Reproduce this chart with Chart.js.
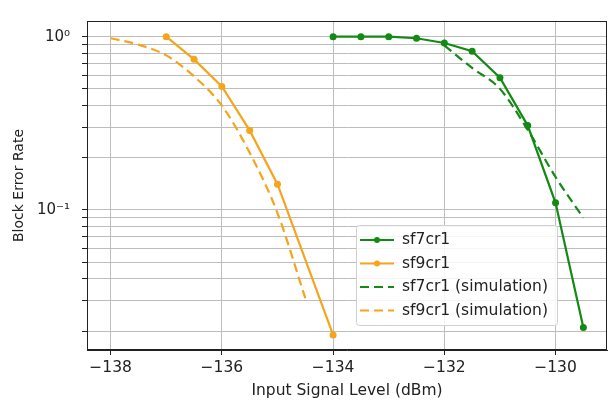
<!DOCTYPE html>
<html>
<head>
<meta charset="utf-8">
<script src="https://cdn.jsdelivr.net/npm/chart.js@4/dist/chart.umd.min.js"></script>
<style>
  html, body { margin: 0; padding: 0; background: #fff; }
  #wrap { position: relative; width: 611px; height: 402px; }
</style>
</head>
<body>
<div id="wrap"><canvas id="blerChart" width="611" height="402"></canvas></div>
<script>
// Data
const sf7Levels = [-134, -133.5, -133, -132.5, -132, -131.5, -131, -130.5, -130, -129.5];
const sf7Bler = [1.0, 1.0, 1.0, 0.98, 0.92, 0.825, 0.58, 0.307, 0.11, 0.021];
const sf9Levels = [-137, -136.5, -136, -135.5, -135, -134];
const sf9Bler = [1.0, 0.74, 0.516, 0.288, 0.141, 0.019];
const sf7SimLevels = [-132, -131.5, -131, -130.5, -130, -129.5];
const sf7SimBler = [0.89, 0.66, 0.5, 0.29, 0.155, 0.09];
const sf9SimLevels = [-138, -137.5, -137, -136.5, -136, -135.5, -135, -134.5];
const sf9SimBler = [0.98, 0.9, 0.78, 0.59, 0.4, 0.214, 0.096, 0.031];

const seriesLabels = ['sf7cr1', 'sf9cr1', 'sf7cr1 (simulation)', 'sf9cr1 (simulation)'];
const yTickValues = [0.02, 0.03, 0.04, 0.05, 0.06, 0.07, 0.08, 0.09, 0.1,
                     0.2, 0.3, 0.4, 0.5, 0.6, 0.7, 0.8, 0.9, 1];
const yTickLabels = { 1: '10\u2070', 0.1: '10\u207B\u00B9' };

const GREEN = '#138a13';
const ORANGE = '#f6a41c';
const FONT = 'DejaVu Sans';

function toPoints(xs, ys) {
    return xs.map((x, i) => ({ x: x, y: ys[i] }));
}

// kotak bingkai atas + kanan, lalu legenda di dalam area plot
const framePlugin = {
    id: 'frame',
    afterDatasetsDraw(chart) {
        const { ctx, chartArea: a } = chart;
        ctx.save();
        ctx.strokeStyle = '#222';
        ctx.lineWidth = 1;
        ctx.strokeRect(Math.round(a.left) + 0.5, Math.round(a.top) + 0.5,
                       Math.round(a.right - a.left) - 1, Math.round(a.bottom - a.top) - 1);

        // legend box
        const bx = a.right - 251, by = a.bottom - 125, bw = 201, bh = 100;
        ctx.beginPath();
        ctx.roundRect(bx + 0.5, by + 0.5, bw, bh, 3);
        ctx.fillStyle = 'rgba(255,255,255,0.85)';
        ctx.fill();
        ctx.strokeStyle = '#d0d0d0';
        ctx.stroke();

        ctx.font = '15.5px "' + FONT + '"';
        ctx.textBaseline = 'middle';
        chart.data.datasets.forEach((ds, i) => {
            const yy = by + 15 + i * 23.5;
            ctx.strokeStyle = ds.borderColor;
            ctx.lineWidth = 2.2;
            ctx.setLineDash(ds.borderDash || []);
            ctx.beginPath();
            ctx.moveTo(bx + 4, yy);
            ctx.lineTo(bx + 38, yy);
            ctx.stroke();
            ctx.setLineDash([]);
            if (ds.pointRadius > 0) {
                ctx.fillStyle = ds.borderColor;
                ctx.beginPath();
                ctx.arc(bx + 21, yy, 3, 0, Math.PI * 2);
                ctx.fill();
            }
            ctx.fillStyle = '#222';
            ctx.fillText(ds.label, bx + 46, yy);
        });
        ctx.restore();
    }
};

const ctx = document.getElementById('blerChart').getContext('2d');
new Chart(ctx, {
    type: 'line',
    data: {
        datasets: [
            {
                label: seriesLabels[0], data: toPoints(sf7Levels, sf7Bler),
                borderColor: GREEN, backgroundColor: GREEN, borderWidth: 2.2,
                pointRadius: 3.5, pointBackgroundColor: GREEN, pointBorderWidth: 0, tension: 0
            },
            {
                label: seriesLabels[1], data: toPoints(sf9Levels, sf9Bler),
                borderColor: ORANGE, backgroundColor: ORANGE, borderWidth: 2.2,
                pointRadius: 3.5, pointBackgroundColor: ORANGE, pointBorderWidth: 0, tension: 0
            },
            {
                label: seriesLabels[2], data: toPoints(sf7SimLevels, sf7SimBler),
                borderColor: GREEN, borderWidth: 2.2, borderDash: [9, 5],
                pointRadius: 0, cubicInterpolationMode: 'monotone'
            },
            {
                label: seriesLabels[3], data: toPoints(sf9SimLevels, sf9SimBler),
                borderColor: ORANGE, borderWidth: 2.2, borderDash: [9, 5],
                pointRadius: 0, cubicInterpolationMode: 'monotone'
            }
        ]
    },
    options: {
        responsive: false,
        animation: false,
        layout: { padding: { top: 8, right: 3, left: 0, bottom: 0 } },
        plugins: { legend: { display: false }, tooltip: { enabled: false } },
        scales: {
            x: {
                type: 'linear',
                min: -138.425,
                max: -129.075,
                afterFit(scale) { scale.height = 52; },
                ticks: {
                    stepSize: 2,
                    includeBounds: false,
                    padding: 4,
                    color: '#222',
                    font: { family: FONT, size: 15.5 },
                    callback: v => (v < 0 ? '\u2212' : '') + Math.abs(v)
                },
                grid: { color: '#bdbdbd', lineWidth: 1, tickLength: 5, tickColor: '#222' },
                border: { color: '#222', width: 1 },
                title: {
                    display: true, text: 'Input Signal Level (dBm)', color: '#222',
                    font: { family: FONT, size: 15.5 }, padding: { top: 0, bottom: 2 }
                }
            },
            y: {
                type: 'logarithmic',
                min: 0.01556,
                max: 1.232,
                afterFit(scale) { scale.width = 87; },
                afterBuildTicks(scale) {
                    scale.ticks = yTickValues.map(v => ({ value: v }));
                },
                ticks: {
                    autoSkip: false,
                    padding: 12,
                    color: '#222',
                    font: { family: FONT, size: 15 },
                    callback: v => yTickLabels[v] || ''
                },
                grid: { color: '#bdbdbd', lineWidth: 1, tickLength: 5, tickColor: '#222' },
                border: { color: '#222', width: 1 },
                title: {
                    display: true, text: 'Block Error Rate', color: '#222',
                    font: { family: FONT, size: 14 }, padding: { top: 11, bottom: 0 }
                }
            }
        }
    },
    plugins: [framePlugin]
});
</script>
</body>
</html>
